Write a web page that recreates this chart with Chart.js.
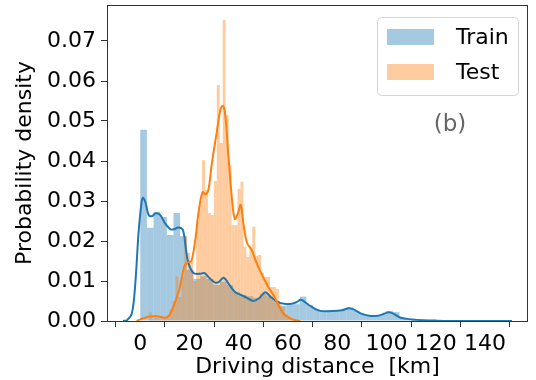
<!DOCTYPE html>
<html>
<head>
<meta charset="utf-8">
<script src="https://cdn.jsdelivr.net/npm/chart.js@4.4.1/dist/chart.umd.min.js"></script>
<style>
  html, body { margin: 0; padding: 0; background: #fff; }
</style>
</head>
<body>
<canvas id="dist_chart" width="536" height="380"></canvas>
<script>
// histogram bins (centres, km) and densities
const trainBinCenters = [1.35, 4.05, 6.75, 9.45, 12.15, 14.85, 17.55, 20.25, 22.95, 25.65,
    28.35, 31.05, 33.75, 36.45, 39.15, 41.85, 44.55, 47.25, 49.95, 52.65,
    55.35, 58.05, 60.75, 63.45, 66.15, 68.85, 71.55, 74.25, 76.95, 79.65,
    82.35, 85.05, 87.75, 90.45, 93.15, 95.85, 98.55, 101.25, 103.95, 106.65,
    109.35, 112.05, 114.75, 117.45, 120.15, 122.85, 125.55, 128.25, 130.95, 133.65];
const trainDensity = [0.0478, 0.0233, 0.0273, 0.0260, 0.0215, 0.0270, 0.0212, 0.0128, 0.0105, 0.0112,
    0.0105, 0.0090, 0.0098, 0.0090, 0.0072, 0.0065, 0.0062, 0.0058, 0.0068, 0.0062,
    0.0050, 0.0038, 0.0040, 0.0042, 0.0061, 0.0040, 0.0030, 0.0026, 0.0026, 0.0025,
    0.0028, 0.0034, 0.0025, 0.0018, 0.0014, 0.0013, 0.0017, 0.0025, 0.0022, 0.0008,
    0.0004, 0.0003, 0.0002, 0.0001, 0.0001, 0, 0.0001, 0, 0, 0.0001];

const testBinCenters = [4.1, 5.3, 6.5, 7.7, 8.9, 10.1, 11.3, 12.5, 13.7, 14.9,
    16.1, 17.3, 18.5, 19.7, 20.9, 22.1, 23.3, 24.5, 25.7, 26.9,
    28.1, 29.3, 30.5, 31.7, 32.9, 34.1, 35.3, 36.5, 37.7, 38.9,
    40.1, 41.3, 42.5, 43.7, 44.9, 46.1, 47.3, 48.5, 49.7, 50.9,
    52.1, 53.3, 54.5, 55.7, 56.9, 58.1, 59.3, 60.5, 61.7, 62.9];
const testDensity = [0.0022, 0.0005, 0.0008, 0.0006, 0.0004, 0.0006, 0.0008, 0.0030, 0.0050, 0.0112,
    0.0060, 0.0110, 0.0213, 0.0170, 0.0150, 0.0100, 0.0248, 0.0300, 0.0402, 0.0327,
    0.0270, 0.0265, 0.0350, 0.0590, 0.0445, 0.0753, 0.0515, 0.0390, 0.0240, 0.0240,
    0.0330, 0.0348, 0.0186, 0.0160, 0.0185, 0.0236, 0.0163, 0.0165, 0.0121, 0.0110,
    0.0110, 0.0085, 0.0085, 0.0080, 0.0047, 0.0035, 0.0015, 0.0010, 0.0005, 0.0002];

// kde curves
const trainKdeX = [-7, -5.4, -3.4, -2, -0.7, 0.5, 1.1, 2.2, 3.4, 4.8, 6.1, 8.1, 10.1, 12.4, 14, 15.5,
    17.3, 18.6, 19.6, 21.6, 24.3, 26, 28, 30.5, 32, 33.9, 36, 38.6, 41, 43.3, 46, 48.5, 50.8, 53,
    56, 58.5, 61.5, 63.5, 65.3, 68.5, 72.6, 78, 82, 84.8, 87, 89.5, 93, 96.5, 99, 101, 103,
    105.8, 110.5, 115, 120, 130, 151];
const trainKdeY = [0, 0.0002, 0.0019, 0.0094, 0.0219, 0.0295, 0.0308, 0.0295, 0.0265, 0.0262, 0.0269, 0.0265, 0.0244, 0.0229, 0.0230, 0.0234,
    0.0228, 0.0178, 0.0144, 0.0120, 0.0118, 0.0120, 0.0108, 0.0096, 0.0098, 0.0108, 0.0092, 0.0072, 0.0065, 0.0058, 0.0050, 0.0058, 0.0072, 0.0060,
    0.0047, 0.0043, 0.0043, 0.0047, 0.0053, 0.0040, 0.0026, 0.0025, 0.0027, 0.0032, 0.0028, 0.0019, 0.0013, 0.0013, 0.0018, 0.0022, 0.0018,
    0.0008, 0.0004, 0.0002, 0.0001, 0, 0];

const testKdeX = [-1.5, 0, 2, 4, 7, 10, 12, 14, 16, 18, 19.5, 20.8, 22.4, 23.7, 25.3, 26.5, 27.7, 29,
    31.1, 32.4, 33.4, 34.4, 35.7, 37.1, 38.4, 39.7, 40.8, 42.1, 43.4, 45.2, 47.2, 49.5, 52, 54,
    56, 58, 60.5, 63, 65];
const testKdeY = [0, 0.0004, 0.0008, 0.0011, 0.0012, 0.0008, 0.0016, 0.0045, 0.0082, 0.0138, 0.0147, 0.0150, 0.0205, 0.0272, 0.0322, 0.0316, 0.0328, 0.0390,
    0.0473, 0.0523, 0.0538, 0.0522, 0.0423, 0.0315, 0.0255, 0.0270, 0.0290, 0.0235, 0.0195, 0.0178, 0.0146, 0.0115, 0.0085, 0.0066,
    0.0042, 0.0020, 0.0008, 0.0002, 0];

const xTicks = [0, 20, 40, 60, 80, 100, 120, 140];
const yTicks = [0, 0.01, 0.02, 0.03, 0.04, 0.05, 0.06, 0.07];
const seriesNames = ['Train', 'Test'];

const blue = 'rgb(31, 119, 180)';
const orange = 'rgb(255, 127, 14)';
const blueFill = 'rgba(31, 119, 180, 0.4)';
const orangeFill = 'rgba(255, 127, 14, 0.4)';
const FONT = 'DejaVu Sans';

function pairs(xs, ys) {
    return xs.map((x, i) => ({ x: x, y: ys[i] }));
}

// no extra room for overhanging tick labels, the plot box is fixed
function noOverhang(s) {
    s.paddingLeft = 0;
    s.paddingRight = 0;
    s.paddingTop = 0;
    s.paddingBottom = 0;
}

// box around the plot + legend + panel label
const framePlugin = {
    id: 'frame',
    afterDraw(chart) {
        const ctx = chart.ctx;
        const a = chart.chartArea;
        ctx.save();
        ctx.strokeStyle = '#333';
        ctx.lineWidth = 1;
        ctx.strokeRect(Math.round(a.left) + 0.5, Math.round(a.top) + 0.5,
            Math.round(a.right - a.left) - 1, Math.round(a.bottom - a.top));

        // legend
        const lx = 377.5, ly = 17.5, lw = 141, lh = 78;
        ctx.beginPath();
        ctx.roundRect(lx, ly, lw, lh, 4);
        ctx.fillStyle = 'rgba(255,255,255,0.8)';
        ctx.fill();
        ctx.strokeStyle = '#d6d6d6';
        ctx.stroke();
        const fills = [blueFill, orangeFill];
        ctx.font = '22px "' + FONT + '"';
        ctx.textBaseline = 'middle';
        ctx.textAlign = 'left';
        seriesNames.forEach((name, i) => {
            const cy = 37 + i * 35;
            ctx.fillStyle = fills[i];
            ctx.fillRect(387, cy - 8, 47, 16);
            ctx.fillStyle = '#000';
            ctx.fillText(name, 456, cy + 1);
        });

        ctx.fillStyle = '#666';
        ctx.font = '23px "' + FONT + '"';
        ctx.textAlign = 'center';
        ctx.fillText('(b)', 450, 125);
        ctx.restore();
    }
};

const canvas = document.getElementById('dist_chart');
const chart = new Chart(canvas, {
    type: 'line',
    data: {
        datasets: [
            {
                type: 'bar', label: 'Train', data: pairs(trainBinCenters, trainDensity),
                backgroundColor: blueFill, borderWidth: 0, inflateAmount: 0, xAxisID: 'x', order: 3,
                barPercentage: 1, categoryPercentage: 1, grouped: false
            },
            {
                type: 'line', label: 'Train kde', data: pairs(trainKdeX, trainKdeY),
                borderColor: blue, borderWidth: 2, pointRadius: 0, tension: 0.35,
                fill: false, xAxisID: 'x', order: 1
            },
            {
                type: 'bar', label: 'Test', data: pairs(testBinCenters, testDensity),
                backgroundColor: orangeFill, borderWidth: 0, inflateAmount: 0, xAxisID: 'x2', order: 2,
                barPercentage: 1, categoryPercentage: 1, grouped: false
            },
            {
                type: 'line', label: 'Test kde', data: pairs(testKdeX, testKdeY),
                borderColor: orange, borderWidth: 2, pointRadius: 0, tension: 0.35,
                fill: false, xAxisID: 'x', order: 0
            }
        ]
    },
    options: {
        responsive: false,
        animation: false,
        devicePixelRatio: 1,
        layout: { padding: { top: 5, right: 8, left: 0, bottom: 0 } },
        plugins: { legend: { display: false }, tooltip: { enabled: false } },
        scales: {
            x: {
                type: 'linear', min: -13.5, max: 157.5, offset: false,
                afterBuildTicks: (s) => { s.ticks = xTicks.map(v => ({ value: v })); },
                afterFit: (s) => { s.height = 59; noOverhang(s); },
                grid: { display: true, drawOnChartArea: false, drawTicks: true, tickLength: 6, color: '#333' },
                border: { display: false },
                ticks: { font: { family: FONT, size: 22 }, color: '#000', padding: 4, maxRotation: 0, autoSkip: false },
                title: {
                    display: true, text: 'Driving distance  [km]', color: '#000',
                    font: { family: FONT, size: 22 }, padding: { top: 0, bottom: 0 }
                }
            },
            x2: {
                type: 'linear', min: -13.5, max: 157.5, offset: false, display: false
            },
            y: {
                type: 'linear', min: 0, max: 0.079,
                afterBuildTicks: (s) => { s.ticks = yTicks.map(v => ({ value: v })); },
                afterFit: (s) => { s.width = 107; noOverhang(s); },
                grid: { display: true, drawOnChartArea: false, drawTicks: true, tickLength: 6, color: '#333' },
                border: { display: false },
                ticks: {
                    font: { family: FONT, size: 22 }, color: '#000', padding: 5,
                    callback: (v) => v.toFixed(2)
                },
                title: {
                    display: true, text: 'Probability density', color: '#000',
                    font: { family: FONT, size: 22 }, padding: { top: 12, bottom: 0 }
                }
            }
        }
    },
    plugins: [framePlugin]
});
</script>
</body>
</html>
